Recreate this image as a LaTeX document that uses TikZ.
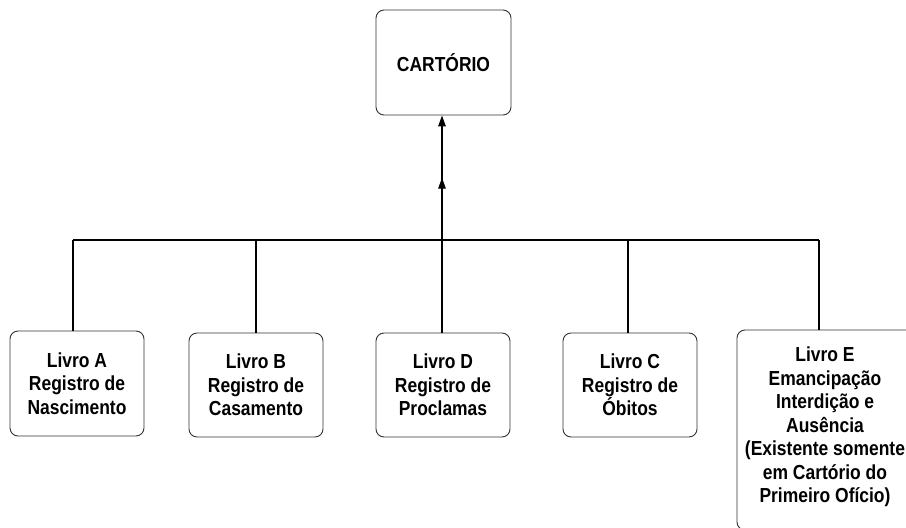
\documentclass[tikz,border=0pt]{standalone}
\usepackage{fontspec}
\setmainfont{Liberation Sans}[FakeStretch=0.86]
\usetikzlibrary{arrows.meta,decorations.markings}
\begin{document}
\begin{tikzpicture}[x=1pt,y=-1pt,
  booktext/.style={align=center,inner sep=0pt,font=\fontsize{20.3}{23.5}\selectfont\bfseries},
  book/.style={draw=black!80,line width=0.9pt,rounded corners=8pt,fill=white,booktext},
  link/.style={line width=1.4pt},
  upto/.style={link,
    postaction={decorate,decoration={markings,
      mark=at position 0.5 with {\arrow{Triangle[length=11pt,width=7.5pt]}}}},
    -{Triangle[length=11pt,width=7.5pt]}}]
\useasboundingbox (0,0) rectangle (906,528);

% registry office on top
\node[book,minimum width=135pt,minimum height=105pt] (cart) at (443.5,62.5) {CARTÓRIO};

% the books
\node[book,minimum width=134pt,minimum height=105pt] (la) at (77,383.5)
  {Livro A\\Registro de\\Nascimento};
\node[book,minimum width=134pt,minimum height=104pt] (lb) at (256,385)
  {Livro B\\Registro de\\Casamento};
\node[book,minimum width=134pt,minimum height=104pt] (ld) at (443,385)
  {Livro D\\Registro de\\Proclamas};
\node[book,minimum width=134pt,minimum height=104pt] (lc) at (630,385)
  {Livro C\\Registro de\\Óbitos};
% book E runs past the right edge; its text is set on its own
\node[book,minimum width=196pt,minimum height=200pt] (le) at (835,430) {};
\node[booktext] (letext) at (825,427)
  {Livro E\\Emancipação\\Interdição e\\Ausência\\(Existente somente\\em Cartório do\\Primeiro Ofício)};

% trunk line
\coordinate (jl) at (73,240);
\coordinate (jr) at (819,240);
\coordinate (jm) at (442,240);
\draw[link] (jl) -- (jr);
\draw[link] (jl) -- (jl |- la.north);
\draw[link] (lb.north) -- (lb.north |- jl);
\draw[link] (jm |- ld.north) -- (jm);
\draw[link] (628,240) -- (628,333);
\draw[link] (jr) -- (jr |- le.north);
\draw[upto] (jm) -- (jm |- cart.south);
\end{tikzpicture}
\end{document}
